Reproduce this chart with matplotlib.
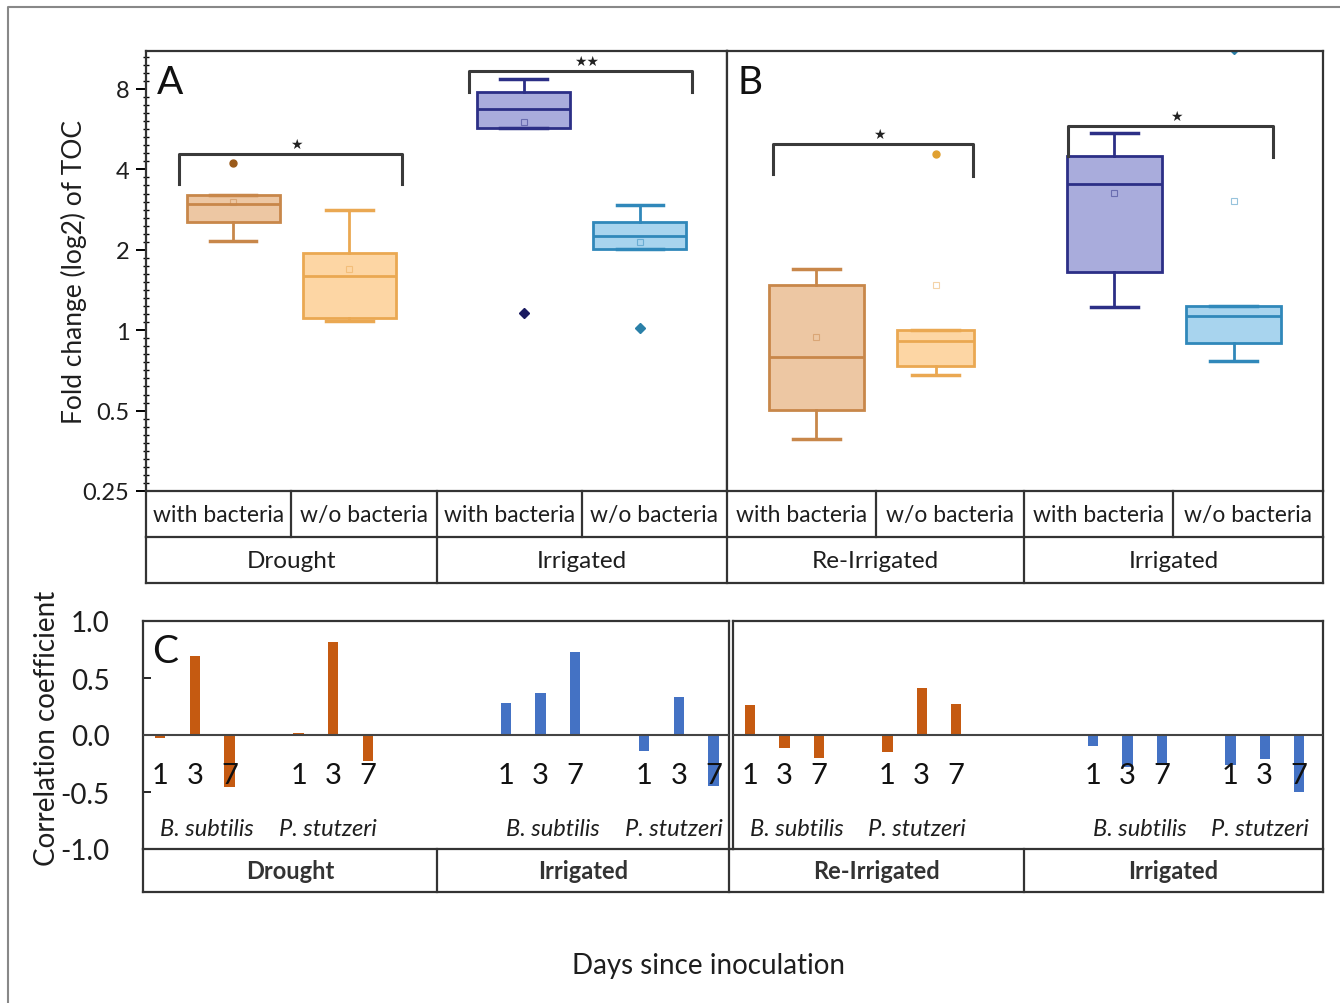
import matplotlib
matplotlib.use('Agg')
import matplotlib.pyplot as plt
import numpy as np
from matplotlib.ticker import FixedLocator, NullFormatter

plt.rcParams['font.family'] = ['Lato', 'DejaVu Sans']

W, H = 1340, 1004

# ---- panel A / B : fold change of TOC (box statistics) ----
treatments = ['with bacteria', 'w/o bacteria', 'with bacteria', 'w/o bacteria']
conditions_a = ['Drought', 'Irrigated']
conditions_b = ['Re-Irrigated', 'Irrigated']
box_pos = [1, 2, 3.5, 4.5]

a_q1 = [2.54, 1.11, 5.72, 2.01]
a_med = [2.97, 1.59, 6.73, 2.25]
a_q3 = [3.21, 1.95, 7.82, 2.54]
a_lo = [2.16, 1.08, 5.72, 2.01]
a_hi = [3.21, 2.81, 8.72, 2.95]
a_mean = [3.03, 1.70, 6.04, 2.13]
a_out = [[4.23], [], [1.16], [1.02]]

b_q1 = [0.504, 0.736, 1.656, 0.896]
b_med = [0.792, 0.909, 3.53, 1.127]
b_q3 = [1.48, 1.004, 4.50, 1.235]
b_lo = [0.391, 0.68, 1.225, 0.765]
b_hi = [1.69, 1.004, 5.47, 1.235]
b_mean = [0.941, 1.48, 3.26, 3.04]
b_out = [[], [4.57], [], [11.25]]

# significance brackets: x0, x1, left leg, top, right leg, label
a_brackets = [(0.53, 2.455, 3.53, 4.57, 3.53, '★'), (3.03, 4.95, 7.78, 9.37, 7.78, '★★')]
b_brackets = [(0.634, 2.315, 3.84, 4.98, 3.78, '★'), (3.11, 4.83, 4.5, 5.83, 4.44, '★')]

# ---- panel C : correlation coefficients ----
days = ['1', '3', '7']
species = ['B. subtilis', 'P. stutzeri']
c_left = [-0.03, 0.69, -0.46, 0.02, 0.82, -0.23, 0.28, 0.37, 0.73, -0.14, 0.33, -0.45]
c_right = [0.26, -0.11, -0.20, -0.15, 0.41, 0.27, -0.10, -0.28, -0.26, -0.26, -0.21, -0.50]

fill_cols = ['#edc7a3', '#fdd6a4', '#a9acdc', '#a8d4ee']
edge_cols = ['#c8874a', '#eaa852', '#2c2f86', '#3088ba']
out_cols = ['#9a5a1a', '#e0a030', '#1a1a60', '#2a80a8']
bar_cols = ['#c55a11'] * 6 + ['#4472c4'] * 6
txt = '#1e1e1e'


def px_axes(fig, x0, y0, x1, y1):
    return fig.add_axes([x0 / W, 1 - y1 / H, (x1 - x0) / W, (y1 - y0) / H])


fig = plt.figure(figsize=(W / 100, H / 100), dpi=100, facecolor='white')


def box_panel(ax, q1, med, q3, lo, hi, mean, out, widths, brackets, letter):
    stats = []
    for i in range(4):
        stats.append(dict(q1=q1[i], med=med[i], q3=q3[i], whislo=lo[i], whishi=hi[i],
                          mean=mean[i], fliers=out[i]))
    res = ax.bxp(stats, positions=box_pos, widths=widths, capwidths=0.4,
                 patch_artist=True, showmeans=True, manage_ticks=False)
    for i in range(4):
        res['boxes'][i].set(facecolor=fill_cols[i], edgecolor=edge_cols[i], linewidth=2)
        res['medians'][i].set(color=edge_cols[i], linewidth=2)
        for k in (2 * i, 2 * i + 1):
            res['whiskers'][k].set(color=edge_cols[i], linewidth=2)
            res['caps'][k].set(color=edge_cols[i], linewidth=2.5)
        res['means'][i].set(marker='s', markersize=5, markerfacecolor='none',
                            markeredgecolor=edge_cols[i], alpha=0.5, markeredgewidth=0.8)
        res['fliers'][i].set(marker='D' if i >= 2 else 'o', markersize=5,
                             markerfacecolor=out_cols[i], markeredgecolor=out_cols[i])
    for x0, x1, yl, yt, yr, lab in brackets:
        ax.plot([x0, x0, x1, x1], [yl, yt, yt, yr], color='#3a3a3a', lw=2.2,
                solid_joinstyle='round')
        ax.text((x0 + x1) / 2 + 0.05, yt * 1.025, lab, ha='center', va='bottom',
                fontsize=10, color='#222222', family=['DejaVu Sans'])
    ax.set_yscale('log', base=2)
    ax.set_ylim(0.25, 11.1)
    ax.set_xlim(0.25, 5.25)
    ax.set_xticks([])
    for s in ax.spines.values():
        s.set_linewidth(1.6)
        s.set_color('#333333')
    ax.text(0.018, 0.93, letter, transform=ax.transAxes, fontsize=28, va='center',
            color='#111111')


axA = px_axes(fig, 146, 52, 727, 492)
box_panel(axA, a_q1, a_med, a_q3, a_lo, a_hi, a_mean, a_out, [0.8] * 4, a_brackets, 'A')
axA.set_yticks([0.25, 0.5, 1, 2, 4, 8])
axA.set_yticklabels(['0.25', '0.5', '1', '2', '4', '8'], fontsize=17, color=txt)
axA.yaxis.set_minor_locator(FixedLocator(2 ** np.arange(-2, 3.5, 0.1)))
axA.yaxis.set_minor_formatter(NullFormatter())
axA.tick_params(axis='y', which='major', direction='out', length=7, width=1.4, pad=5)
axA.tick_params(axis='y', which='minor', direction='inout', length=5, width=1.0)
axA.set_ylabel('Fold change (log2) of TOC', fontsize=19, labelpad=-3, color=txt)

axB = px_axes(fig, 727, 52, 1323, 492)
box_panel(axB, b_q1, b_med, b_q3, b_lo, b_hi, b_mean, b_out, [0.8, 0.64, 0.8, 0.8], b_brackets, 'B')
axB.set_yticks([])
axB.yaxis.set_minor_locator(FixedLocator([]))


def corr_panel(ax, vals, xmax, letter=None):
    offs = [0, 4, 10, 14]
    xs = np.concatenate([o + np.arange(3) for o in offs])
    ax.bar(xs, vals, width=0.3, color=bar_cols, zorder=2)
    ax.axhline(0, color='#444444', lw=1.5, zorder=3)
    for j, o in enumerate(offs):
        for k, d in enumerate(days):
            ax.text(o + k, -0.35, d, ha='center', va='center', fontsize=21,
                    color='#111111', zorder=4)
        ax.text(o + 1 + (0.35 if j % 2 == 0 else -0.15), -0.82, species[j % 2], ha='center',
                va='center', fontsize=17, style='italic', color=txt)
    ax.set_xlim(-0.5, xmax)
    ax.set_ylim(-1, 1)
    ax.set_xticks([])
    for s in ax.spines.values():
        s.set_linewidth(1.6)
        s.set_color('#333333')
    if letter:
        ax.text(0.015, 0.87, letter, transform=ax.transAxes, fontsize=28, va='center',
                color='#111111')


axC1 = px_axes(fig, 143, 622, 729, 850)
corr_panel(axC1, c_left, 16.45, 'C')
axC1.set_yticks([-1, -0.5, 0, 0.5, 1])
axC1.set_yticklabels(['-1.0', '-0.5', '0.0', '0.5', '1.0'], fontsize=20, color=txt)
axC1.tick_params(axis='y', direction='in', length=6, width=1.2, pad=24)
axC1.set_ylabel('Correlation coefficient', fontsize=20, labelpad=0, color=txt)
axC1.yaxis.set_label_coords(-0.142, 0.535)

axC2 = px_axes(fig, 733, 622, 1323, 850)
corr_panel(axC2, c_right, 16.7)
axC2.set_yticks([])

# ---- overlay in pixel coordinates: category tables, frame, x label ----
ov = fig.add_axes([0, 0, 1, 1], zorder=10)
ov.set_xlim(0, W)
ov.set_ylim(H, 0)
ov.axis('off')
ov.patch.set_visible(False)
lc = '#333333'
# top category table
cells1 = [146, 291, 437, 582, 727, 876, 1024, 1173, 1323]
cells2 = [146, 437, 727, 1024, 1323]
ov.plot([146, 1323], [538, 538], color=lc, lw=1.6)
ov.plot([146, 1323], [584, 584], color=lc, lw=1.6)
for x in cells1:
    ov.plot([x, x], [492, 538], color=lc, lw=1.6)
for x in cells2:
    ov.plot([x, x], [538, 584], color=lc, lw=1.6)
for i, lab in enumerate(treatments + treatments):
    ov.text((cells1[i] + cells1[i + 1]) / 2, 516, lab, ha='center', va='center',
            fontsize=16.5, color=txt)
for i, lab in enumerate(conditions_a + conditions_b):
    ov.text((cells2[i] + cells2[i + 1]) / 2, 562, lab, ha='center', va='center',
            fontsize=17.5, color=txt)
# bottom category table
cells3 = [143, 437, 729, 1024, 1323]
ov.plot([143, 1323], [893, 893], color=lc, lw=1.6)
ov.plot([729, 733], [850, 850], color=lc, lw=1.6)
for x in cells3:
    ov.plot([x, x], [850, 893], color=lc, lw=1.6)
for i, lab in enumerate(conditions_a + conditions_b):
    ov.text((cells3[i] + cells3[i + 1]) / 2, 872, lab, ha='center', va='center',
            fontsize=17, fontweight='bold', color='#333333')
# outer frame
ov.plot([8, 8, W], [H, 8, 8], color='#888888', lw=1.5)
ov.text(708, 966, 'Days since inoculation', ha='center', va='center', fontsize=20,
        color=txt)

fig.savefig('out.png', dpi=100, facecolor='white')
